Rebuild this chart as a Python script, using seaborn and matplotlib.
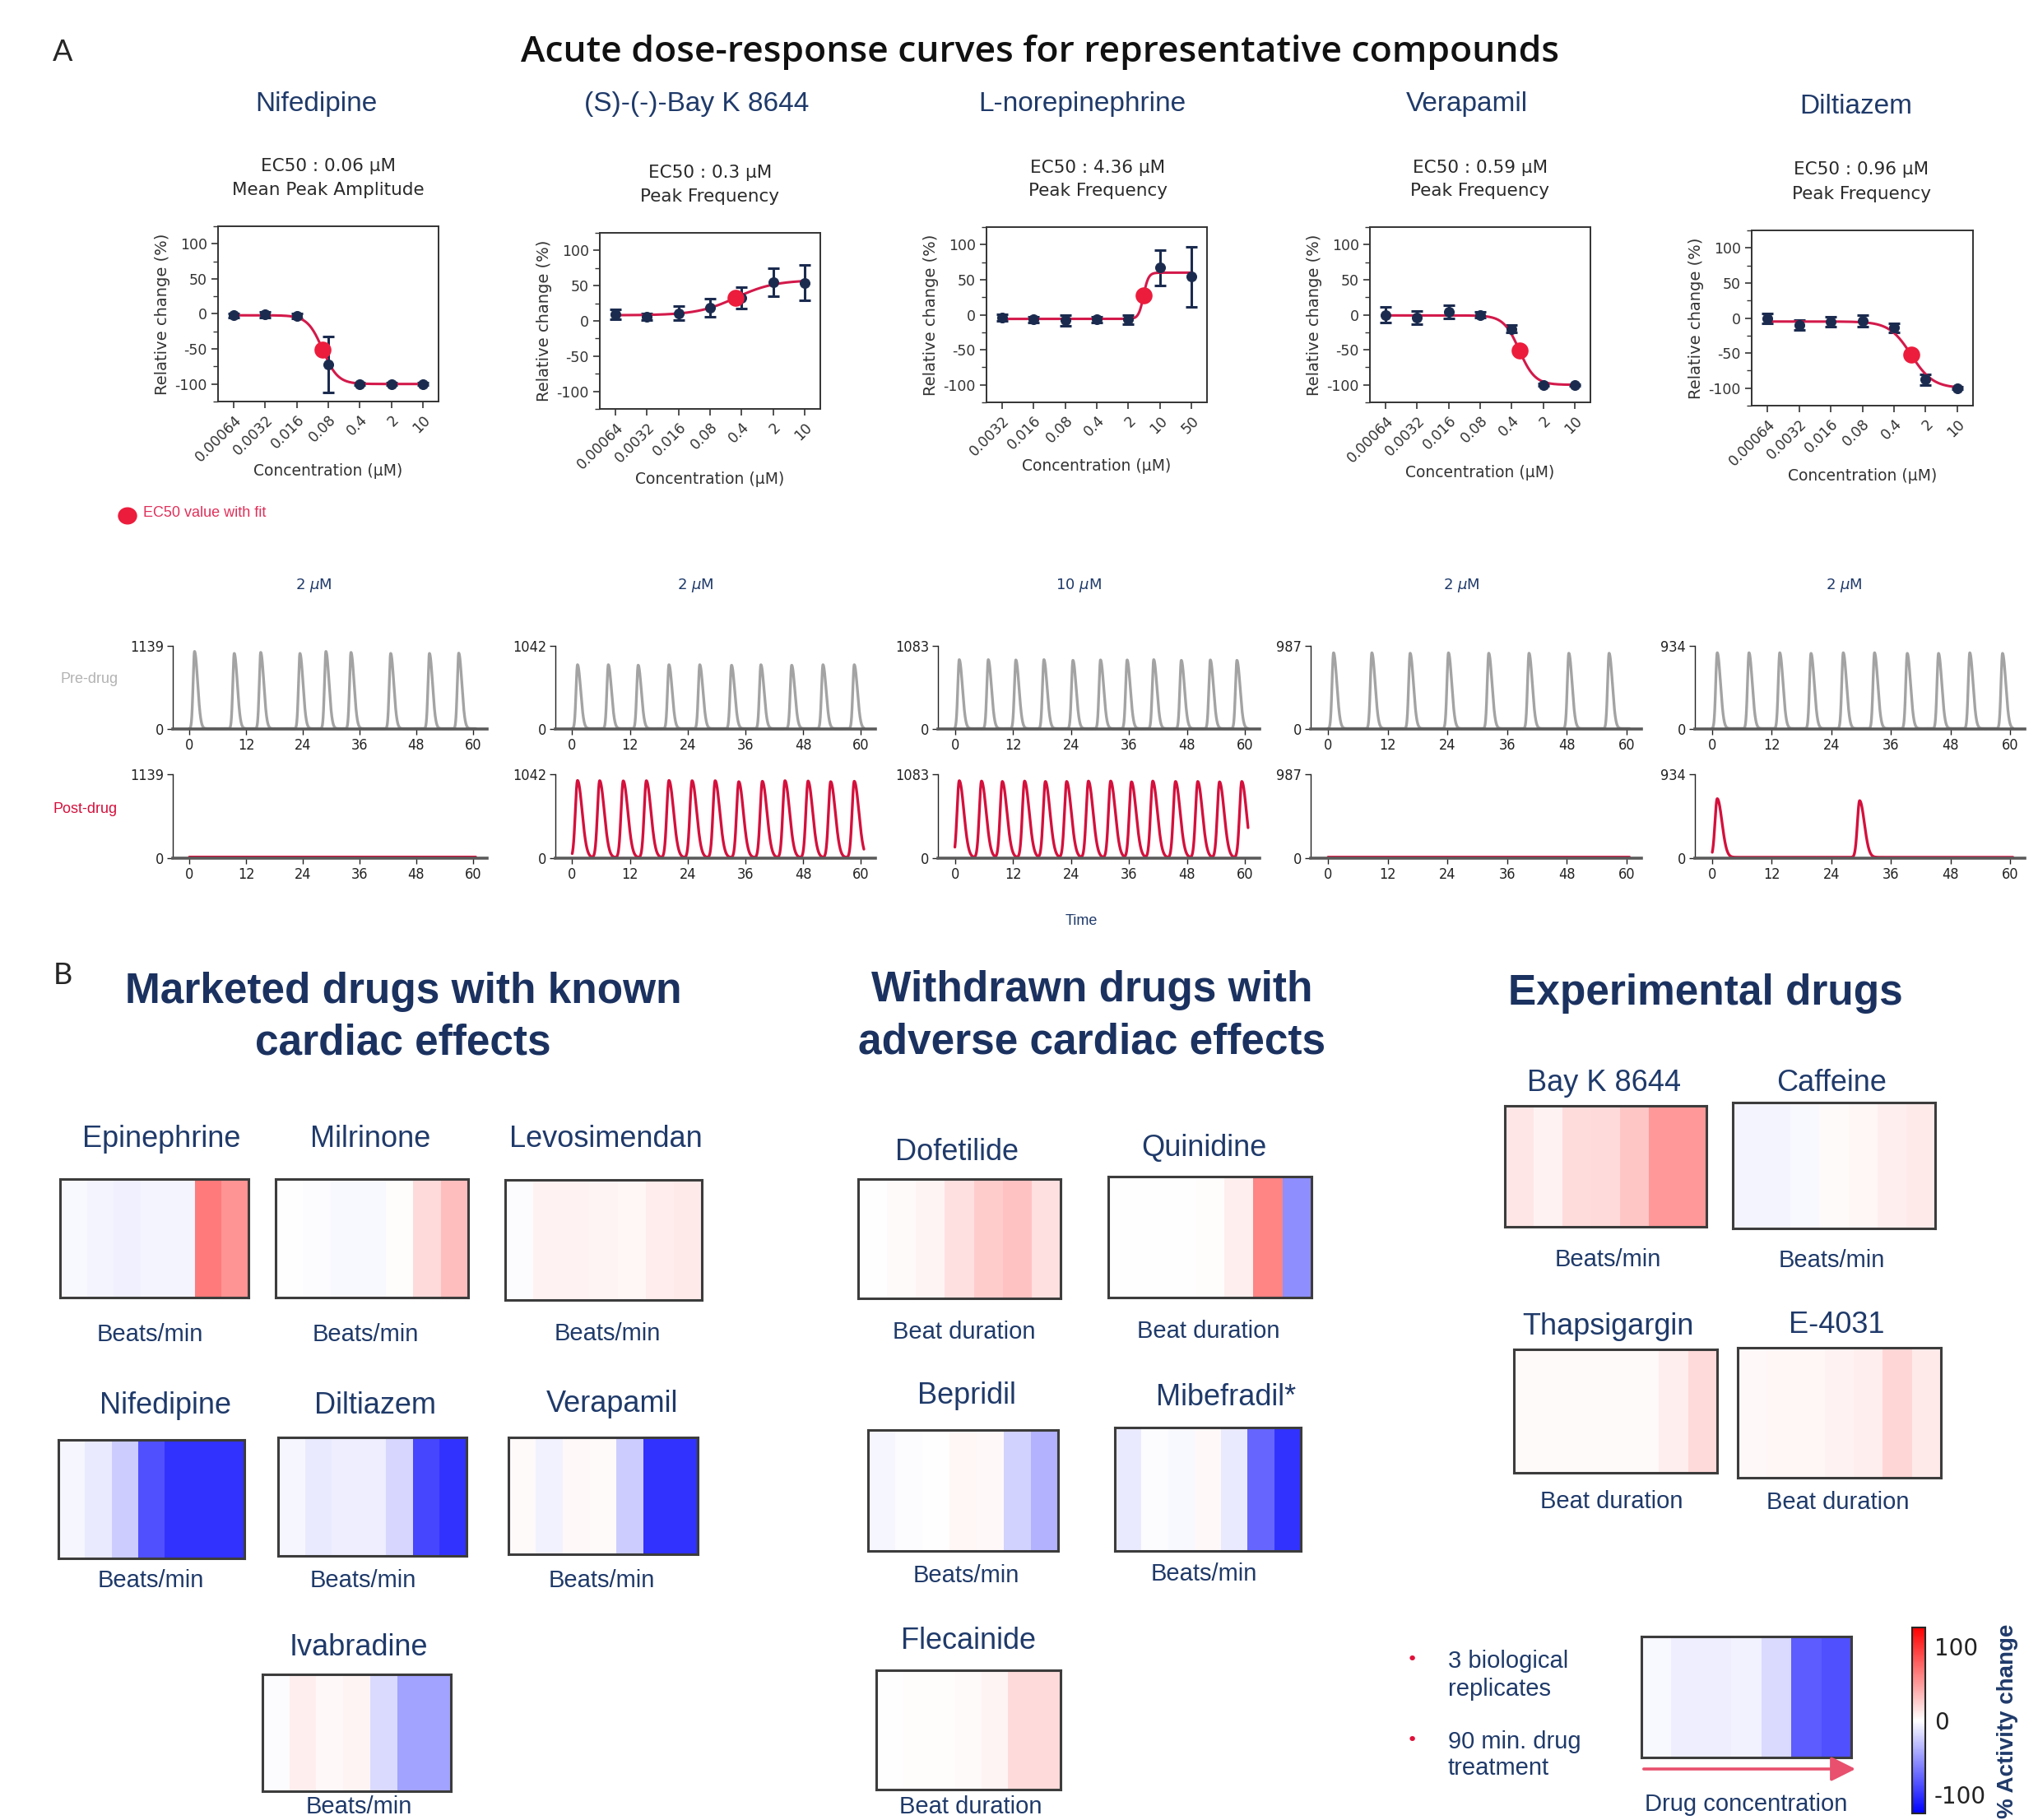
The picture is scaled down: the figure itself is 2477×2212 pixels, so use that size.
import numpy as np
import matplotlib
matplotlib.use("Agg")
import matplotlib.pyplot as plt
import seaborn as sns
from matplotlib.ticker import MultipleLocator, FixedLocator
from matplotlib.colors import Normalize

W, H = 2477, 2212

# ---------------- panel A : dose response ----------------
conc_std = [0.00064, 0.0032, 0.016, 0.08, 0.4, 2, 10]
conc_ne = [0.0032, 0.016, 0.08, 0.4, 2, 10, 50]
ticks_std = ["0.00064", "0.0032", "0.016", "0.08", "0.4", "2", "10"]
ticks_ne = ["0.0032", "0.016", "0.08", "0.4", "2", "10", "50"]

nif_mean = [-2, -1, -3, -72, -100, -100, -100]
nif_err = [3, 4, 4, 40, 2, 2, 2]
bay_mean = [9, 6, 11, 19, 33, 55, 54]
bay_err = [7, 5, 10, 13, 15, 20, 25]
ne_mean = [-4, -7, -8, -7, -7, 67, 54]
ne_err = [5, 4, 8, 4, 7, 25, 43]
ver_mean = [0, -4, 4, 0, -20, -100, -100]
ver_err = [11, 9, 9, 4, 5, 2, 1]
dil_mean = [-1, -10, -5, -4, -14, -88, -100]
dil_err = [7, 7, 7, 8, 6, 8, 2]

# fitted curve: low-dose level, high-dose level, EC50 (uM), hill slope
nif_fit = [-2, -100, 0.06, 2.6]
bay_fit = [8, 58, 0.3, 1.0]
ne_fit = [-6, 60, 4.36, 8.0]
ver_fit = [-1, -100, 0.59, 2.5]
dil_fit = [-5, -100, 0.96, 1.8]

dose_titles = ["Nifedipine", "(S)-(-)-Bay K 8644", "L-norepinephrine", "Verapamil", "Diltiazem"]
ec50_labels = ["EC50 : 0.06 µM", "EC50 : 0.3 µM", "EC50 : 4.36 µM", "EC50 : 0.59 µM", "EC50 : 0.96 µM"]
metric_labels = ["Mean Peak Amplitude", "Peak Frequency", "Peak Frequency", "Peak Frequency", "Peak Frequency"]

# ---------------- panel A : traces (peak times in s, peak heights) ----------------
trace_doses = ["2 $\\mu$M", "2 $\\mu$M", "10 $\\mu$M", "2 $\\mu$M", "2 $\\mu$M"]
trace_max = [1139, 1042, 1083, 987, 934]

nif_pre_t = [1.1, 9.5, 15.1, 23.4, 28.9, 34.2, 42.6, 50.8, 57.0]
nif_pre_h = [1063, 1036, 1050, 1036, 1063, 1050, 1036, 1036, 1040]
nif_post_t = []
nif_post_h = []
bay_pre_t = [1.1, 7.5, 13.7, 20.1, 26.5, 33.1, 39.2, 45.6, 52.1, 58.6]
bay_pre_h = [806, 806, 800, 806, 806, 800, 806, 800, 806, 806]
bay_post_t = [1.1, 5.7, 10.6, 15.4, 20.1, 24.9, 29.7, 34.6, 39.5, 44.2, 49.0, 53.7, 58.6]
bay_post_h = [965, 962, 960, 962, 965, 962, 962, 950, 955, 962, 958, 950, 955]
ne_pre_t = [0.9, 6.9, 12.6, 18.4, 24.4, 30.1, 35.6, 41.1, 46.8, 52.8, 58.3]
ne_pre_h = [904, 904, 900, 904, 895, 900, 900, 904, 895, 900, 895]
ne_post_t = [0.9, 5.5, 9.8, 14.4, 18.7, 23.1, 27.6, 32.2, 36.5, 40.9, 45.6, 50.2, 54.7, 59.3]
ne_post_h = [1000, 995, 990, 995, 990, 990, 995, 995, 985, 995, 990, 990, 985, 990]
ver_pre_t = [1.1, 8.8, 16.5, 24.2, 32.3, 40.4, 48.4, 56.5]
ver_pre_h = [905, 905, 900, 905, 900, 900, 900, 900]
ver_post_t = []
ver_post_h = []
dil_pre_t = [1.0, 7.4, 13.6, 19.9, 26.4, 32.7, 39.3, 45.6, 51.9, 58.5]
dil_pre_h = [857, 857, 857, 850, 857, 857, 850, 850, 857, 850]
dil_post_t = [1.0, 29.7]
dil_post_h = [662, 640]
post_floor = [15, 8, 8, 12, 10]

# ---------------- panel B : heatmaps (% activity change per concentration) ----------------
epinephrine = [-3, -5, -7, -5, -5, 65, 52]
milrinone = [0, -1, -3, -3, 1, 18, 32]
levosimendan = [-1, 6, 6, 5, 4, 9, 10]
nifedipine = [-4, -10, -25, -85, -100, -100, -100]
diltiazem = [-4, -10, -8, -8, -20, -90, -100]
verapamil = [2, -6, 3, 2, -25, -100, -100]
ivabradine = [-1, 8, 3, 5, -18, -45, -45]
dofetilide = [0, 2, 5, 15, 25, 30, 15]
quinidine = [0, 0, 0, 1, 8, 60, -55]
bepridil = [-4, -1, 0, 4, 3, -22, -38]
mibefradil = [-10, -1, -3, 3, -10, -75, -100]
flecainide = [0, 1, 1, 2, 5, 18, 18]
bayk8644 = [12, 6, 17, 18, 28, 50, 50]
caffeine = [-5, -5, -3, 2, 4, 8, 10]
thapsigargin = [2, 2, 2, 2, 2, 8, 18]
e4031 = [3, 4, 4, 6, 8, 20, 10]
example_map = [-3, -8, -8, -6, -18, -80, -85]

NAVY = "#1b2b4f"
TXT = "#1f3a6a"
FIT = "#d3194a"
ECRED = "#ec1c3c"
GREY = "#a3a3a3"
POST = "#d4103c"

sns.set_style("white")
plt.rcParams["font.family"] = ["DejaVu Sans"]
plt.rcParams["axes.unicode_minus"] = False

fig = plt.figure(figsize=(W / 100, H / 100), dpi=100)


def frac(x0, y0, x1, y1):
    return [x0 / W, 1 - y1 / H, (x1 - x0) / W, (y1 - y0) / H]


def txt(x, y, s, **kw):
    kw.setdefault("ha", "center")
    kw.setdefault("va", "center")
    return fig.text(x / W, 1 - y / H, s, **kw)


def hill(x, low, high, ec50, n):
    return low + (high - low) / (1 + (ec50 / x) ** n)


# ---- headings
txt(76, 63, "A", fontsize=26, family="Lato")
txt(1264, 63, "Acute dose-response curves for representative compounds", fontsize=32,
    family="Open Sans", weight="semibold", color="#111111")
txt(76, 1185, "B", fontsize=26, family="Lato")

# ---- dose response panels
dose_boxes = [(265, 275, 533, 488), (729, 283, 997, 497), (1199, 276, 1467, 489),
              (1665, 276, 1933, 489), (2129, 280, 2398, 493)]
title_pos = [(384, 127), (847, 127), (1315, 127), (1783, 127), (2256, 130)]
ec50_pos = [(399, 202, 231), (863, 210, 239), (1334, 204, 232), (1799, 204, 232), (2262, 206, 236)]
xlabel_y = [573, 583, 567, 575, 578]
dose_sets = [
    (conc_std, ticks_std, nif_mean, nif_err, nif_fit),
    (conc_std, ticks_std, bay_mean, bay_err, bay_fit),
    (conc_ne, ticks_ne, ne_mean, ne_err, ne_fit),
    (conc_std, ticks_std, ver_mean, ver_err, ver_fit),
    (conc_std, ticks_std, dil_mean, dil_err, dil_fit),
]

for i, (conc, tl, mean, err, fit) in enumerate(dose_sets):
    box = dose_boxes[i]
    ax = fig.add_axes(frac(*box))
    x = np.array(conc)
    xf = np.geomspace(conc[0], conc[-1], 400)
    ax.errorbar(x, mean, yerr=err, fmt="none", ecolor=NAVY, elinewidth=2.2,
                capsize=5, capthick=2.2, zorder=2)
    sns.lineplot(x=xf, y=hill(xf, *fit), ax=ax, color=FIT, lw=2.2, zorder=3)
    sns.scatterplot(x=x, y=mean, ax=ax, color=NAVY, s=75, edgecolor=NAVY, zorder=4)
    ax.scatter([fit[2]], [hill(fit[2], *fit)], s=220, color=ECRED, zorder=5, lw=0)
    ax.set_xscale("log")
    ax.set_xlim(conc[0] / 5 ** 0.5, conc[-1] * 5 ** 0.5)
    ax.set_ylim(-125, 125)
    ax.xaxis.set_major_locator(FixedLocator(conc))
    ax.xaxis.set_minor_locator(FixedLocator([]))
    ax.set_xticklabels(tl, rotation=45, ha="right", rotation_mode="anchor")
    ax.yaxis.set_major_locator(FixedLocator([-100, -50, 0, 50, 100]))
    ax.yaxis.set_minor_locator(MultipleLocator(25))
    ax.set_yticklabels(["-100", "-50", "0", "50", "100"])
    ax.tick_params(axis="both", which="major", direction="out", length=6, width=1.2,
                   labelsize=12.5, colors="#333333", left=True, bottom=True)
    ax.tick_params(axis="y", which="minor", direction="out", length=4, width=1, left=True, colors="#333333")
    for s in ax.spines.values():
        s.set_visible(True)
        s.set_color("#333333")
        s.set_linewidth(1.4)
    ax.set_xlabel("")
    ax.set_ylabel("Relative change (%)", fontsize=14, color="#333333", labelpad=4)
    txt(title_pos[i][0], title_pos[i][1], dose_titles[i], fontsize=24,
        family="Liberation Sans", color=TXT)
    ex, ey, sy = ec50_pos[i]
    txt(ex, ey, ec50_labels[i], fontsize=15.5, color="#2a2a2a")
    txt(ex, sy, metric_labels[i], fontsize=15.5, color="#2a2a2a")
    txt((box[0] + box[2]) / 2, xlabel_y[i], "Concentration (µM)", fontsize=13.5, color="#333333")

# EC50 legend
fig.add_artist(plt.Circle((155 / W, 1 - 627 / H), 11 / W, color=ECRED, transform=fig.transFigure))
txt(174, 624, "EC50 value with fit", ha="left", fontsize=13, family="Liberation Sans", color="#e0305a")

# ---- traces
trace_cols = [(210, 592), (675, 1064), (1140, 1531), (1593, 1995), (2060, 2461)]
dose_x = [381, 845, 1311, 1776, 2241]
pre_sets = [(nif_pre_t, nif_pre_h), (bay_pre_t, bay_pre_h), (ne_pre_t, ne_pre_h),
            (ver_pre_t, ver_pre_h), (dil_pre_t, dil_pre_h)]
post_sets = [(nif_post_t, nif_post_h), (bay_post_t, bay_post_h), (ne_post_t, ne_post_h),
             (ver_post_t, ver_post_h), (dil_post_t, dil_post_h)]
t = np.linspace(0, 60.6, 5000)


def trace(peaks, heights, floor, rise, decay):
    y = np.full_like(t, float(floor))
    for p, h in zip(peaks, heights):
        d = t - p
        y = y + (h - floor) * np.where(d < 0, np.exp(-0.5 * (d / rise) ** 2), np.exp(-0.5 * (d / decay) ** 2))
    return y


for i, (x0, x1) in enumerate(trace_cols):
    for row, (y0, y1) in enumerate([(785, 886), (941, 1043)]):
        ax = fig.add_axes(frac(x0, y0, x1, y1))
        if row == 0:
            pk, hh = pre_sets[i]
            y = trace(pk, hh, 6, 0.3, 0.65)
            col = GREY
        else:
            pk, hh = post_sets[i]
            y = trace(pk, hh, post_floor[i], 0.45, 0.95)
            col = POST
        sns.lineplot(x=t, y=y, ax=ax, color=col, lw=2.4, clip_on=False)
        ax.set_xlim(-3.5, 63)
        ax.set_ylim(0, trace_max[i])
        ax.set_xticks([0, 12, 24, 36, 48, 60])
        ax.set_yticks([0, trace_max[i]])
        ax.tick_params(axis="both", direction="out", length=5, width=1, labelsize=13,
                       colors="#222222", left=True, bottom=True, pad=3)
        for lab in ax.get_xticklabels() + ax.get_yticklabels():
            lab.set_fontstretch("condensed")
        for s in ["top", "right"]:
            ax.spines[s].set_visible(False)
        ax.spines["left"].set_bounds(0, trace_max[i])
        ax.spines["left"].set_color("#222222")
        ax.spines["left"].set_linewidth(1)
        ax.spines["bottom"].set_color("#5a5a5a")
        ax.spines["bottom"].set_linewidth(2.6)
        ax.set_xlabel("")
        ax.set_ylabel("")
        ax.patch.set_alpha(0)
    txt(dose_x[i], 711, trace_doses[i], fontsize=13, color=TXT)

txt(109, 826, "Pre-drug", fontsize=13, family="Liberation Sans", color="#b3b3b3")
txt(104, 983, "Post-drug", fontsize=13, family="Liberation Sans", color=POST)
txt(1314, 1120, "Time", fontsize=13, family="Liberation Sans", color=TXT)

# ---- panel B headings
HB = dict(fontsize=37, family="Liberation Sans", weight="bold", color="#1b3260")
txt(490, 1205, "Marketed drugs with known", **HB)
txt(490, 1268, "cardiac effects", **HB)
txt(1327, 1204, "Withdrawn drugs with", **HB)
txt(1327, 1267, "adverse cardiac effects", **HB)
txt(2073, 1208, "Experimental drugs", **HB)

# box, values, name, name position, readout, readout position
heatmaps = [
    ((73, 1433, 302, 1577), epinephrine, "Epinephrine", (196, 1384), "Beats/min", (182, 1622)),
    ((335, 1433, 569, 1577), milrinone, "Milrinone", (450, 1384), "Beats/min", (444, 1622)),
    ((614, 1434, 853, 1580), levosimendan, "Levosimendan", (736, 1385), "Beats/min", (738, 1621)),
    ((71, 1750, 297, 1894), nifedipine, "Nifedipine", (201, 1708), "Beats/min", (183, 1921)),
    ((338, 1747, 567, 1891), diltiazem, "Diltiazem", (456, 1708), "Beats/min", (441, 1921)),
    ((618, 1747, 848, 1889), verapamil, "Verapamil", (744, 1706), "Beats/min", (731, 1921)),
    ((319, 2035, 548, 2177), ivabradine, "Ivabradine", (436, 2003), "Beats/min", (436, 2196)),
    ((1043, 1433, 1289, 1578), dofetilide, "Dofetilide", (1163, 1401), "Beat duration", (1172, 1619)),
    ((1347, 1430, 1594, 1577), quinidine, "Quinidine", (1463, 1395), "Beat duration", (1469, 1618)),
    ((1055, 1738, 1286, 1885), bepridil, "Bepridil", (1175, 1697), "Beats/min", (1174, 1915)),
    ((1355, 1735, 1581, 1885), mibefradil, "Mibefradil*", (1490, 1698), "Beats/min", (1463, 1913)),
    ((1065, 2030, 1289, 2175), flecainide, "Flecainide", (1177, 1995), "Beat duration", (1180, 2196)),
    ((1829, 1344, 2074, 1491), bayk8644, "Bay K 8644", (1949, 1316), "Beats/min", (1954, 1531)),
    ((2106, 1340, 2352, 1493), caffeine, "Caffeine", (2226, 1316), "Beats/min", (2226, 1532)),
    ((1840, 1640, 2087, 1790), thapsigargin, "Thapsigargin", (1954, 1613), "Beat duration", (1959, 1825)),
    ((2112, 1638, 2359, 1796), e4031, "E-4031", (2232, 1611), "Beat duration", (2234, 1826)),
    ((1995, 1989, 2250, 2136), example_map, None, None, "Drug concentration", (2122, 2193)),
]

for box, vals, name, npos, lab, lpos in heatmaps:
    ax = fig.add_axes(frac(*box))
    sns.heatmap(np.array([vals]), ax=ax, cmap="bwr", vmin=-125, vmax=125, cbar=False,
                xticklabels=False, yticklabels=False)
    for s in ax.spines.values():
        s.set_visible(True)
        s.set_color("#3c3c3c")
        s.set_linewidth(2.2)
    if name:
        txt(npos[0], npos[1], name, fontsize=26, family="Liberation Sans", color=TXT)
    txt(lpos[0], lpos[1], lab, fontsize=21, family="Liberation Sans", color=TXT)

# legend of panel B
txt(1716, 2017, "•", fontsize=16, color="#e0103a")
txt(1716, 2115, "•", fontsize=16, color="#e0103a")
txt(1760, 2036, "3 biological\nreplicates", ha="left", fontsize=21, family="Liberation Sans",
    color=TXT, linespacing=1.25)
txt(1760, 2133, "90 min. drug\ntreatment", ha="left", fontsize=21, family="Liberation Sans",
    color=TXT, linespacing=1.2)
fig.add_artist(matplotlib.patches.FancyArrowPatch(
    (1995 / W, 1 - 2150 / H), (2258 / W, 1 - 2150 / H), transform=fig.transFigure,
    arrowstyle="-|>,head_length=1.4,head_width=0.7", mutation_scale=13, color="#e8506e", lw=2.6))

cax = fig.add_axes(frac(2324, 1978, 2340, 2204))
sm = plt.cm.ScalarMappable(cmap="bwr", norm=Normalize(-125, 125))
cb = fig.colorbar(sm, cax=cax, ticks=[-100, 0, 100])
cb.ax.set_yticklabels(["-100", "0", "100"])
cb.ax.tick_params(labelsize=20, length=0, colors="#222222", pad=8)
cb.outline.set_linewidth(1.5)
txt(2440, 2092, "% Activity change", rotation=90, fontsize=20, family="Liberation Sans",
    weight="bold", color=TXT)

fig.savefig("out.png", dpi=100)
